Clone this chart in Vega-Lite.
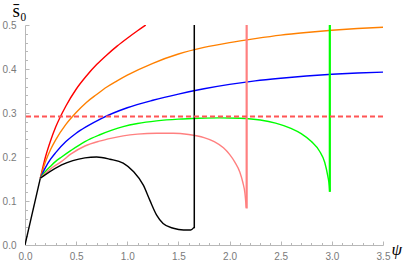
{
  "$schema": "https://vega.github.io/schema/vega-lite/v6.json",
  "width": 358,
  "height": 220,
  "autosize": {"type": "none"},
  "padding": {"left": 25, "top": 25, "right": 25, "bottom": 20},
  "background": "white",
  "config": {
    "view": {"stroke": null},
    "axis": {
      "domainColor": "#b8b8b8",
      "tickColor": "#b8b8b8",
      "labelColor": "#7a7a7a",
      "labelFont": "Liberation Sans",
      "labelFontSize": 10,
      "grid": false
    }
  },
  "resolve": {"axis": {"x": "independent", "y": "independent"}},
  "datasets": {
    "curves": [
      {"s": "base", "o": 0, "x": 0, "y": 0},
      {"s": "base", "o": 1, "x": 0.15, "y": 0.152},
      {"s": "red", "o": 0, "x": 0.15, "y": 0.152},
      {"s": "red", "o": 1, "x": 0.2, "y": 0.2},
      {"s": "red", "o": 2, "x": 0.25, "y": 0.237},
      {"s": "red", "o": 3, "x": 0.3, "y": 0.268},
      {"s": "red", "o": 4, "x": 0.4, "y": 0.316},
      {"s": "red", "o": 5, "x": 0.5, "y": 0.354},
      {"s": "red", "o": 6, "x": 0.6, "y": 0.384},
      {"s": "red", "o": 7, "x": 0.7, "y": 0.41},
      {"s": "red", "o": 8, "x": 0.8, "y": 0.432},
      {"s": "red", "o": 9, "x": 0.9, "y": 0.452},
      {"s": "red", "o": 10, "x": 1.0, "y": 0.47},
      {"s": "red", "o": 11, "x": 1.1, "y": 0.487},
      {"s": "red", "o": 12, "x": 1.18, "y": 0.5},
      {"s": "orange", "o": 0, "x": 0.15, "y": 0.152},
      {"s": "orange", "o": 1, "x": 0.2, "y": 0.189},
      {"s": "orange", "o": 2, "x": 0.25, "y": 0.217},
      {"s": "orange", "o": 3, "x": 0.3, "y": 0.239},
      {"s": "orange", "o": 4, "x": 0.4, "y": 0.274},
      {"s": "orange", "o": 5, "x": 0.5, "y": 0.301},
      {"s": "orange", "o": 6, "x": 0.6, "y": 0.324},
      {"s": "orange", "o": 7, "x": 0.7, "y": 0.342},
      {"s": "orange", "o": 8, "x": 0.8, "y": 0.359},
      {"s": "orange", "o": 9, "x": 0.9, "y": 0.373},
      {"s": "orange", "o": 10, "x": 1.0, "y": 0.386},
      {"s": "orange", "o": 11, "x": 1.25, "y": 0.413},
      {"s": "orange", "o": 12, "x": 1.5, "y": 0.434},
      {"s": "orange", "o": 13, "x": 1.75, "y": 0.449},
      {"s": "orange", "o": 14, "x": 2.0, "y": 0.46},
      {"s": "orange", "o": 15, "x": 2.25, "y": 0.469},
      {"s": "orange", "o": 16, "x": 2.5, "y": 0.477},
      {"s": "orange", "o": 17, "x": 2.75, "y": 0.483},
      {"s": "orange", "o": 18, "x": 3.0, "y": 0.488},
      {"s": "orange", "o": 19, "x": 3.25, "y": 0.492},
      {"s": "orange", "o": 20, "x": 3.5, "y": 0.495},
      {"s": "blue", "o": 0, "x": 0.15, "y": 0.152},
      {"s": "blue", "o": 1, "x": 0.2, "y": 0.176},
      {"s": "blue", "o": 2, "x": 0.25, "y": 0.195},
      {"s": "blue", "o": 3, "x": 0.3, "y": 0.21},
      {"s": "blue", "o": 4, "x": 0.4, "y": 0.235},
      {"s": "blue", "o": 5, "x": 0.5, "y": 0.254},
      {"s": "blue", "o": 6, "x": 0.6, "y": 0.269},
      {"s": "blue", "o": 7, "x": 0.75, "y": 0.288},
      {"s": "blue", "o": 8, "x": 1.0, "y": 0.312},
      {"s": "blue", "o": 9, "x": 1.25, "y": 0.329},
      {"s": "blue", "o": 10, "x": 1.5, "y": 0.343},
      {"s": "blue", "o": 11, "x": 1.75, "y": 0.355},
      {"s": "blue", "o": 12, "x": 2.0, "y": 0.365},
      {"s": "blue", "o": 13, "x": 2.25, "y": 0.373},
      {"s": "blue", "o": 14, "x": 2.5, "y": 0.379},
      {"s": "blue", "o": 15, "x": 2.75, "y": 0.384},
      {"s": "blue", "o": 16, "x": 3.0, "y": 0.388},
      {"s": "blue", "o": 17, "x": 3.25, "y": 0.391},
      {"s": "blue", "o": 18, "x": 3.5, "y": 0.393},
      {"s": "green", "o": 0, "x": 0.15, "y": 0.152},
      {"s": "green", "o": 1, "x": 0.2, "y": 0.167},
      {"s": "green", "o": 2, "x": 0.25, "y": 0.179},
      {"s": "green", "o": 3, "x": 0.3, "y": 0.19},
      {"s": "green", "o": 4, "x": 0.358, "y": 0.2},
      {"s": "green", "o": 5, "x": 0.45, "y": 0.215},
      {"s": "green", "o": 6, "x": 0.586, "y": 0.235},
      {"s": "green", "o": 7, "x": 0.726, "y": 0.25},
      {"s": "green", "o": 8, "x": 0.85, "y": 0.261},
      {"s": "green", "o": 9, "x": 0.96, "y": 0.269},
      {"s": "green", "o": 10, "x": 1.1, "y": 0.276},
      {"s": "green", "o": 11, "x": 1.287, "y": 0.282},
      {"s": "green", "o": 12, "x": 1.5, "y": 0.286},
      {"s": "green", "o": 13, "x": 1.7, "y": 0.288},
      {"s": "green", "o": 14, "x": 1.9, "y": 0.289},
      {"s": "green", "o": 15, "x": 2.1, "y": 0.288},
      {"s": "green", "o": 16, "x": 2.3, "y": 0.284},
      {"s": "green", "o": 17, "x": 2.45, "y": 0.277},
      {"s": "green", "o": 18, "x": 2.6, "y": 0.265},
      {"s": "green", "o": 19, "x": 2.7, "y": 0.253},
      {"s": "green", "o": 20, "x": 2.8, "y": 0.235},
      {"s": "green", "o": 21, "x": 2.88, "y": 0.213},
      {"s": "green", "o": 22, "x": 2.93, "y": 0.188},
      {"s": "green", "o": 23, "x": 2.96, "y": 0.157},
      {"s": "green", "o": 24, "x": 2.975, "y": 0.135},
      {"s": "green", "o": 25, "x": 2.98, "y": 0.121},
      {"s": "pink", "o": 0, "x": 0.15, "y": 0.152},
      {"s": "pink", "o": 1, "x": 0.2, "y": 0.163},
      {"s": "pink", "o": 2, "x": 0.25, "y": 0.173},
      {"s": "pink", "o": 3, "x": 0.358, "y": 0.19},
      {"s": "pink", "o": 4, "x": 0.45, "y": 0.207},
      {"s": "pink", "o": 5, "x": 0.586, "y": 0.225},
      {"s": "pink", "o": 6, "x": 0.726, "y": 0.236},
      {"s": "pink", "o": 7, "x": 0.85, "y": 0.243},
      {"s": "pink", "o": 8, "x": 0.96, "y": 0.248},
      {"s": "pink", "o": 9, "x": 1.1, "y": 0.252},
      {"s": "pink", "o": 10, "x": 1.287, "y": 0.254},
      {"s": "pink", "o": 11, "x": 1.45, "y": 0.254},
      {"s": "pink", "o": 12, "x": 1.6, "y": 0.251},
      {"s": "pink", "o": 13, "x": 1.75, "y": 0.244},
      {"s": "pink", "o": 14, "x": 1.85, "y": 0.235},
      {"s": "pink", "o": 15, "x": 1.94, "y": 0.221},
      {"s": "pink", "o": 16, "x": 2.0, "y": 0.206},
      {"s": "pink", "o": 17, "x": 2.05, "y": 0.189},
      {"s": "pink", "o": 18, "x": 2.1, "y": 0.166},
      {"s": "pink", "o": 19, "x": 2.13, "y": 0.142},
      {"s": "pink", "o": 20, "x": 2.15, "y": 0.118},
      {"s": "pink", "o": 21, "x": 2.163, "y": 0.085},
      {"s": "black", "o": 0, "x": 0.15, "y": 0.152},
      {"s": "black", "o": 1, "x": 0.2, "y": 0.16},
      {"s": "black", "o": 2, "x": 0.358, "y": 0.182},
      {"s": "black", "o": 3, "x": 0.586, "y": 0.198},
      {"s": "black", "o": 4, "x": 0.7, "y": 0.2},
      {"s": "black", "o": 5, "x": 0.83, "y": 0.195},
      {"s": "black", "o": 6, "x": 0.96, "y": 0.186},
      {"s": "black", "o": 7, "x": 1.06, "y": 0.167},
      {"s": "black", "o": 8, "x": 1.157, "y": 0.136},
      {"s": "black", "o": 9, "x": 1.22, "y": 0.102},
      {"s": "black", "o": 10, "x": 1.287, "y": 0.068},
      {"s": "black", "o": 11, "x": 1.35, "y": 0.049},
      {"s": "black", "o": 12, "x": 1.45, "y": 0.038},
      {"s": "black", "o": 13, "x": 1.55, "y": 0.034},
      {"s": "black", "o": 14, "x": 1.62, "y": 0.034},
      {"s": "black", "o": 15, "x": 1.652, "y": 0.04}
    ],
    "verticals": [
      {"s": "black", "x": 1.655, "y": 0.038, "y2": 0.5},
      {"s": "pink", "x": 2.167, "y": 0.083, "y2": 0.5},
      {"s": "green", "x": 2.98, "y": 0.121, "y2": 0.5}
    ],
    "threshold": [{"level": 0.292}]
  },
  "layer": [
    {
      "data": {"name": "curves"},
      "mark": {"type": "line", "interpolate": "monotone", "strokeWidth": 1.4, "clip": true},
      "encoding": {
        "x": {
          "field": "x", "type": "quantitative",
          "scale": {"domain": [0, 3.5], "nice": false, "zero": false},
          "axis": {
            "orient": "bottom",
            "title": "ψ",
            "titleFont": "Liberation Serif",
            "titleFontStyle": "italic",
            "titleFontWeight": "normal",
            "titleFontSize": 17,
            "titleColor": "black",
            "titleAnchor": "start",
            "titleAlign": "left",
            "titleBaseline": "alphabetic",
            "titleX": 366,
            "titleY": 9,
            "values": [0, 0.5, 1, 1.5, 2, 2.5, 3, 3.5],
            "format": ".1f",
            "tickSize": -4,
            "labelPadding": 10,
            "labelFlush": false,
            "labelBound": false,
            "labelOverlap": false
          }
        },
        "y": {
          "field": "y", "type": "quantitative",
          "scale": {"domain": [0, 0.5], "nice": false},
          "axis": {
            "orient": "left",
            "title": "s̄₀",
            "titleFont": "Liberation Serif",
            "titleFontWeight": "normal",
            "titleFontSize": 19,
            "titleColor": "black",
            "titleAngle": 0,
            "titleAlign": "left",
            "titleBaseline": "alphabetic",
            "titleX": -13,
            "titleY": -9,
            "values": [0, 0.1, 0.2, 0.3, 0.4, 0.5],
            "format": ".1f",
            "tickSize": -4,
            "labelPadding": 13,
            "labelFlush": false,
            "labelBound": false,
            "labelOverlap": false
          }
        },
        "order": {"field": "o", "type": "quantitative"},
        "detail": {"field": "s", "type": "nominal"},
        "color": {
          "field": "s", "type": "nominal", "legend": null,
          "scale": {
            "domain": ["base", "red", "orange", "blue", "green", "pink", "black"],
            "range": ["#000000", "#ff0000", "#ff8000", "#0000ff", "#00ff00", "#ff8080", "#000000"]
          }
        }
      }
    },
    {
      "data": {"name": "verticals"},
      "transform": [{"filter": "datum.s != 'black'"}],
      "mark": {"type": "rule", "strokeWidth": 2.2},
      "encoding": {
        "x": {
          "field": "x", "type": "quantitative",
          "axis": {
            "orient": "bottom", "title": null, "labels": false, "domain": false,
            "values": [0.1,0.2,0.3,0.4,0.6,0.7,0.8,0.9,1.1,1.2,1.3,1.4,1.6,1.7,1.8,1.9,2.1,2.2,2.3,2.4,2.6,2.7,2.8,2.9,3.1,3.2,3.3,3.4],
            "tickSize": -2.5
          }
        },
        "y": {
          "field": "y", "type": "quantitative",
          "axis": {
            "orient": "left", "title": null, "labels": false, "domain": false,
            "values": [0.02,0.04,0.06,0.08,0.12,0.14,0.16,0.18,0.22,0.24,0.26,0.28,0.32,0.34,0.36,0.38,0.42,0.44,0.46,0.48],
            "tickSize": -2.5
          }
        },
        "y2": {"field": "y2"},
        "color": {"field": "s", "type": "nominal", "legend": null}
      }
    },
    {
      "data": {"name": "verticals"},
      "transform": [{"filter": "datum.s == 'black'"}],
      "mark": {"type": "rule", "strokeWidth": 1.5},
      "encoding": {
        "x": {"field": "x", "type": "quantitative", "axis": null},
        "y": {"field": "y", "type": "quantitative", "axis": null},
        "y2": {"field": "y2"},
        "color": {"field": "s", "type": "nominal", "legend": null}
      }
    },
    {
      "data": {"name": "threshold"},
      "mark": {"type": "rule", "color": "#ff5555", "strokeWidth": 1.8, "strokeDash": [5, 3]},
      "encoding": {
        "y": {"field": "level", "type": "quantitative", "axis": null}
      }
    }
  ]
}
